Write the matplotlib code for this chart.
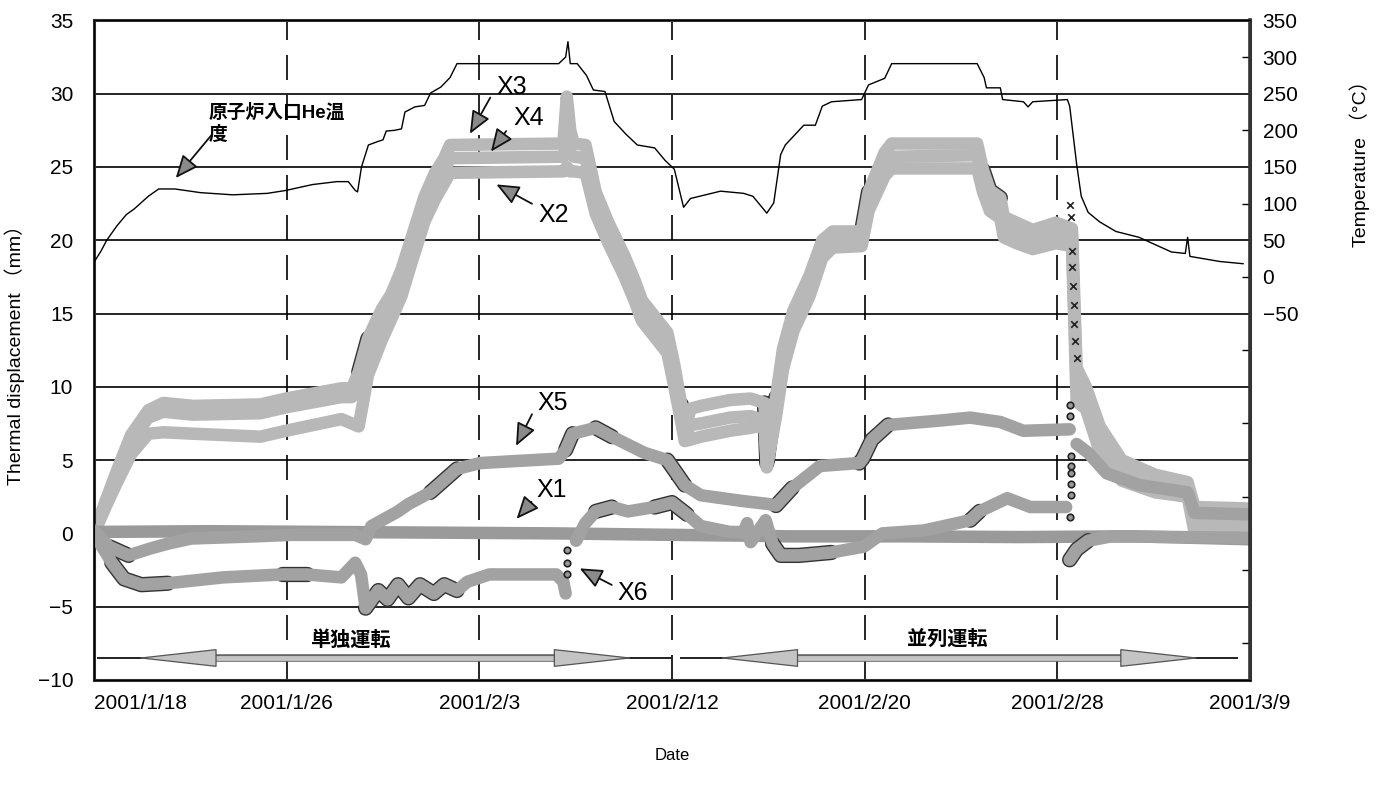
import numpy as np
import matplotlib.pyplot as plt
import matplotlib.patheffects as pe

plt.rcParams['font.family'] = ['Liberation Sans', 'Noto Sans CJK JP', 'DejaVu Sans']

# date axis: days counted from 2001/1/18 0:00
tick_days = [0, 25 / 3, 50 / 3, 25, 100 / 3, 125 / 3, 50]
tick_labels = ['2001/1/18', '2001/1/26', '2001/2/3', '2001/2/12',
               '2001/2/20', '2001/2/28', '2001/3/9']

# reactor inlet He temperature (degC)
temp_days = [0.0, 0.3, 0.55, 1.0, 1.4, 1.75, 2.35, 2.8, 3.5, 4.6, 6.0, 7.5, 8.3, 9.45,
             10.5, 11.0, 11.3, 11.4, 11.57, 11.87, 12.3, 12.5, 12.64, 13.0, 13.3, 13.45,
             13.88, 14.3, 14.56, 15.0, 15.4, 15.7, 20.1, 20.4, 20.5, 20.6, 20.9, 21.3,
             21.6, 22.1, 22.5, 23.0, 23.5, 24.25, 24.7, 25.1, 25.5, 25.8, 27.1, 28.1,
             28.5, 29.1, 29.4, 29.7, 29.9, 30.7, 31.2, 31.5, 31.9, 33.2, 33.5, 34.2,
             34.5, 38.2, 38.5, 38.6, 39.2, 39.3, 40.2, 40.4, 40.6, 42.1, 42.2, 42.5,
             42.7, 43.0, 43.5, 44.2, 45.2, 46.6, 47.2, 47.3, 47.4, 48.7, 49.7]
temp_c = [20, 35, 50, 70, 85, 93, 110, 120, 120, 115, 112, 114, 118, 126,
          130, 130, 118, 116, 150, 180, 185, 187, 199, 200, 202, 225,
          232, 234, 251, 259, 272, 291, 291, 300, 321, 291, 291, 275,
          255, 253, 212, 195, 180, 176, 159, 147, 95, 107, 117, 114,
          110, 87, 101, 167, 180, 207, 207, 233, 239, 242, 262, 271,
          291, 291, 272, 258, 258, 242, 239, 232, 239, 242, 233, 154,
          110, 88, 75, 62, 54, 34, 32, 54, 28, 21, 18]

# thermal displacement (mm)
upper_days = [0, 0.5, 1.0, 1.6, 2.35, 3.0, 4.3, 7.2, 8.3, 10.7, 11.15, 11.45, 11.85, 12.45,
              12.85, 13.3, 13.7, 14.3, 14.75, 15.15, 15.4, 20.3, 20.45, 20.6, 20.75, 21.26,
              21.7, 22.25, 22.95, 23.4, 23.7, 24.8, 25.1, 25.4, 25.55, 25.8, 26.25, 27.5,
              28.4, 29.0, 29.1, 29.5, 29.8, 30.25, 30.95, 31.5, 31.95, 33.2, 33.5, 34.2,
              34.5, 38.2, 38.45, 38.75, 39.2, 39.35, 39.9, 40.6, 41.6, 42.3, 42.5, 42.9,
              43.5, 44.45, 45.9, 47.3, 47.6, 50]
x3_mm = [0, 2.2, 4.3, 6.7, 8.4, 8.9, 8.7, 8.8, 9.2, 9.9, 9.9, 11.0, 13.3, 15.3,
         16.3, 18.0, 20.0, 23.0, 24.6, 25.6, 26.5, 26.6, 29.8, 27.5, 26.6, 26.5,
         23.3, 21.2, 18.9, 17.2, 15.9, 13.7, 11.5, 8.8, 7.0, 8.5, 8.7, 9.1,
         9.2, 8.9, 4.8, 9.3, 12.6, 15.2, 17.6, 20.0, 20.6, 20.6, 23.3, 26.0,
         26.6, 26.6, 24.8, 23.4, 22.9, 21.6, 21.2, 20.7, 21.2, 20.8, 11.3, 10.0,
         7.3, 5.0, 4.0, 3.5, 1.8, 1.7]
x4_mm = [0, 2.0, 4.0, 6.3, 7.9, 8.3, 8.1, 8.2, 8.6, 9.3, 9.3, 10.3, 12.6, 14.6,
         15.6, 17.3, 19.3, 22.2, 23.8, 24.8, 25.6, 25.7, 26.5, 25.9, 25.7, 25.6,
         22.6, 20.5, 18.2, 16.5, 15.2, 13.0, 10.8, 8.2, 6.6, 7.4, 7.5, 7.9,
         8.0, 7.7, 4.6, 8.6, 11.9, 14.5, 16.9, 19.4, 20.0, 20.0, 22.6, 25.2,
         25.7, 25.8, 24.0, 22.7, 22.2, 20.9, 20.5, 20.0, 20.5, 20.2, 10.3, 9.0,
         6.5, 4.4, 3.4, 3.0, 0.7, 0.5]
x2_mm = [0, 1.8, 3.5, 5.4, 6.8, 6.9, 6.8, 6.6, 7.0, 7.8, 7.5, 7.3, 10.8, 13.2,
         14.6, 16.2, 18.3, 21.3, 22.8, 23.9, 24.6, 24.7, 25.0, 24.7, 24.7, 24.6,
         21.8, 19.8, 17.5, 15.8, 14.5, 12.3, 10.0, 7.6, 6.3, 6.4, 6.6, 7.0,
         7.2, 7.4, 4.5, 8.0, 11.2, 13.8, 16.2, 18.8, 19.5, 19.6, 22.0, 24.4,
         24.9, 24.9, 23.3, 22.0, 21.5, 20.2, 19.8, 19.4, 19.8, 19.6, 9.0, 8.5,
         5.6, 3.6, 2.8, 2.5, 0.1, 0.0]

x1_days = [0, 5, 10, 15, 20, 25, 28, 30, 35, 40, 45, 47.5, 50]
x1_mm = [0.1, 0.15, 0.1, 0.05, 0.0, -0.1, -0.15, -0.2, -0.2, -0.25, -0.2, -0.3, -0.4]

x5_days = [0, 0.65, 1.5, 2.5, 3.2, 4.2, 7.0, 8.5, 11.3, 11.75, 12.0, 13.15, 13.6, 14.55,
           15.7, 16.7, 20.1, 20.4, 20.7, 21.7, 22.4, 23.8, 24.8, 25.55, 26.25, 28.1,
           29.2, 29.5, 30.2, 31.4, 33.1, 33.25, 33.65, 34.35, 36.6, 37.9, 39.2, 40.2,
           42.2, 42.25, 42.5, 43.0, 43.8, 45.2, 47.3, 47.6, 50]
x5_mm = [0.2, -0.9, -1.5, -1.0, -0.7, -0.35, -0.2, -0.1, -0.1, -0.4, 0.5, 1.5, 2.0, 2.8,
         4.4, 4.8, 5.1, 5.7, 6.8, 7.2, 6.6, 5.5, 5.0, 3.3, 2.6, 2.2,
         2.0, 1.9, 3.1, 4.6, 4.8, 5.1, 6.4, 7.4, 7.7, 7.9, 7.6, 7.0,
         7.1, np.nan, 6.1, 5.5, 4.1, 3.3, 2.8, 1.4, 1.3]

x6_days = [0, 0.77, 1.3, 2.05, 3.2, 5.6, 8.15, 9.2, 10.7, 11.3, 11.55, 11.75, 12.3, 12.7,
           13.15, 13.6, 14.1, 14.7, 15.15, 15.7, 16.15, 17.1, 18.8, 20.0, 20.3, 20.4,
           20.6, 20.85, 21.25, 21.7, 22.4, 23.1, 24.25, 25.0, 25.65, 26.25, 27.5, 28.1,
           28.25, 28.4, 28.7, 29.05, 29.35, 29.7, 30.5, 31.9, 33.3, 34.1, 35.9, 37.9,
           38.3, 39.5, 40.5, 42.05, 42.15, 42.2, 42.5, 43.0, 44.0, 50]
x6_mm = [0, -2.0, -3.1, -3.5, -3.4, -3.0, -2.8, -2.8, -3.0, -2.0, -2.8, -5.1, -3.9, -4.5,
         -3.5, -4.4, -3.5, -4.1, -3.5, -3.9, -3.3, -2.8, -2.8, -2.8, -3.3, -4.1,
         np.nan, -0.5, 0.7, 1.5, 1.8, 1.5, 1.8, 2.1, 1.3, 0.5, 0.1, 0.1,
         0.7, -0.6, 0.1, 0.9, -0.7, -1.5, -1.5, -1.3, -0.9, 0.0, 0.2, 0.9,
         1.5, 2.4, 1.8, 1.8, np.nan, -1.8, -1.1, -0.5, -0.2, -0.3]

# sparse samples during the fast transients
cross_days = [42.2, 42.25, 42.3, 42.3, 42.35, 42.4, 42.4, 42.45, 42.5]
cross_mm = [22.4, 21.6, 19.3, 18.2, 16.9, 15.6, 14.3, 13.1, 12.0]
ring_days = [42.2, 42.2, 42.25, 42.25, 42.25, 42.25, 42.25, 42.2, 20.45, 20.45, 20.45]
ring_mm = [8.75, 8.0, 5.3, 4.6, 4.1, 3.4, 2.6, 1.1, -1.1, -2.0, -2.8]

# stretches where the dense samples leave dark edges on the band
x3_dark = [(11.4, 11.9), (25.3, 25.6), (29.0, 29.6), (33.1, 33.6), (38.4, 39.3)]
x5_dark = [(0.6, 1.6), (14.4, 16.0), (20.3, 20.8), (21.4, 22.5), (24.5, 25.7),
           (29.5, 30.3), (33.0, 34.5)]
x6_dark = [(0.7, 3.4), (8.1, 9.7), (11.7, 15.7), (21.6, 22.4), (23.4, 25.7),
           (29.3, 31.9), (37.8, 38.4), (42.1, 43.0)]

fig, ax = plt.subplots(figsize=(13.86, 7.85), dpi=100)
fig.subplots_adjust(left=0.0678, right=0.9019, bottom=0.1338, top=0.974)

light = '#b8b8b8'
mid = '#a2a2a2'
band = dict(lw=9, solid_capstyle='round', solid_joinstyle='round')


def dark_edges(days, mm, spans, z):
    d = np.asarray(days, float)
    v = np.asarray(mm, float)
    for a, b in spans:
        m = (d >= a) & (d <= b)
        ax.plot(d[m], v[m], color='#333333', lw=11, solid_capstyle='round',
                solid_joinstyle='round', zorder=z)


dark_edges(upper_days, x3_mm, x3_dark, 1.5)
ax.plot(upper_days, x2_mm, color=light, zorder=2, **band)
ax.plot(upper_days, x4_mm, color=light, zorder=2, **band)
ax.plot(upper_days, x3_mm, color=light, zorder=2, **band)
ax.plot(x1_days, x1_mm, color='#9a9a9a', zorder=3, **band)
dark_edges(x5_days, x5_mm, x5_dark, 3.5)
dark_edges(x6_days, x6_mm, x6_dark, 3.5)
ax.plot(x5_days, x5_mm, color=mid, zorder=4, **band)
ax.plot(x6_days, x6_mm, color=mid, zorder=4, **band)
ax.scatter(cross_days, cross_mm, marker='x', s=22, color='#222222', lw=1.2, zorder=5)
ax.scatter(ring_days, ring_mm, marker='o', s=22, facecolor='#999999',
           edgecolor='#222222', lw=1.2, zorder=5)

ax.set_xlim(0, 50)
ax.set_ylim(-10, 35)
ax.set_yticks(np.arange(-10, 36, 5))
ax.set_xticks(tick_days)
ax.set_xticklabels(tick_labels)
ax.tick_params(axis='both', length=0, labelsize=15)
ax.tick_params(axis='y', pad=15)
ax.tick_params(axis='x', pad=10)
ax.get_xticklabels()[0].set_horizontalalignment('left')

ax.set_axisbelow(True)
ax.yaxis.grid(True, color='black', lw=1.2)
ax.xaxis.grid(True, color='black', lw=1.2, ls=(0, (15, 9)))
for s in ax.spines.values():
    s.set_linewidth(2.2)
    s.set_color('#333333')

ax.set_xlabel('Date', fontsize=12, labelpad=25)
ax.set_ylabel('Thermal displacement （mm）', fontsize=14, labelpad=9)

# temperature on the secondary axis
ax2 = ax.twinx()
ax2.plot(temp_days, temp_c, color='black', lw=1.0, zorder=6)
ax2.set_ylim(-550, 350)
ax2.set_yticks(np.arange(-50, 351, 50))
ax2.set_yticks(np.arange(-500, 301, 100), minor=True)
ax2.yaxis.remove_overlapping_locs = False
ax2.tick_params(axis='y', which='major', length=0, pad=9, labelsize=15)
ax2.tick_params(axis='y', which='minor', direction='in', length=6, width=1)
ax2.set_ylabel('Temperature （°C）', fontsize=14)
ax2.yaxis.set_label_coords(1.086, 0.79)
ax2.spines['right'].set_linewidth(2.6)
ax2.spines['right'].set_color('#333333')

# labels with arrows
head = dict(arrowstyle='-|>,head_length=0.7,head_width=0.3', mutation_scale=20,
            fc='#8a8a8a', ec='#111111', lw=1.3)
lab = dict(fontsize=18, family=['Liberation Sans Narrow', 'Liberation Sans'],
           ha='center', va='center')
ax.text(4.95, 29.35, '原子炉入口He温\n度', fontsize=13.5, fontweight='bold',
        ha='left', va='top', linespacing=1.3)
ax.annotate('', xy=(3.46, 24.1), xytext=(5.2, 27.4), arrowprops=head)
ax.text(18.06, 30.45, 'X3', **lab)
ax.annotate('', xy=(16.2, 27.1), xytext=(17.2, 29.9), arrowprops=head)
ax.text(18.8, 28.35, 'X4', **lab)
ax.annotate('', xy=(17.1, 25.9), xytext=(17.9, 27.6), arrowprops=head)
ax.text(19.9, 21.7, 'X2', **lab)
ax.annotate('', xy=(17.3, 23.9), xytext=(19.05, 22.4), arrowprops=head)
ax.text(19.86, 8.9, 'X5', **lab)
ax.annotate('', xy=(18.2, 5.8), xytext=(19.0, 8.3), arrowprops=head)
ax.text(19.8, 2.95, 'X1', **lab)
ax.annotate('', xy=(18.2, 0.85), xytext=(19.0, 2.3), arrowprops=head)
ax.text(23.3, -4.1, 'X6', **lab)
ax.annotate('', xy=(20.9, -2.3), xytext=(22.5, -3.6), arrowprops=head)

# operation periods along the bottom
periods = [('単独運転', 0.17, 24.94, 1.79, 5.04, 20.03, 23.4, 11.1),
           ('並列運転', 25.4, 49.45, 26.94, 30.19, 44.53, 47.9, 36.9)]
arrow_y = -8.5
for name, a0, a1, tl, bl, br, tr, xc in periods:
    ax.plot([a0, a1], [arrow_y, arrow_y], color='#222222', lw=1.4, zorder=6)
    ax.plot([bl, br], [arrow_y, arrow_y], color='#c4c4c4', lw=3.5, zorder=7,
            path_effects=[pe.Stroke(linewidth=5.5, foreground='#666666'), pe.Normal()])
    for b, t in ((bl, tl), (br, tr)):
        ax.annotate('', xy=(t, arrow_y), xytext=(b, arrow_y), zorder=8,
                    arrowprops=dict(arrowstyle='-|>,head_length=5.4,head_width=0.6',
                                    mutation_scale=10, fc='#c4c4c4', ec='#555555',
                                    lw=0.9, shrinkA=0, shrinkB=0))
    ax.text(xc, -7.25, name, fontsize=14.5, fontweight='bold', ha='center', va='center')

plt.savefig('out.png', dpi=100)
